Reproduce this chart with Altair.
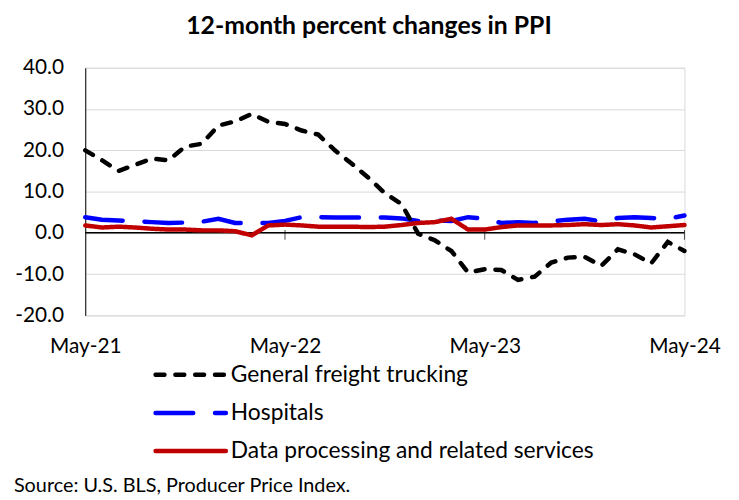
import altair as alt
import pandas as pd

FONT = "Lato"

month_index = list(range(37))
freight = [20.0, 17.6, 15.0, 16.5, 18.0, 17.6, 20.9, 21.6, 26.0, 27.0, 28.8, 26.9,
           26.4, 24.8, 23.8, 20.0, 16.8, 13.4, 9.6, 7.0, -0.2, -1.8, -4.4, -9.6,
           -8.8, -9.0, -11.4, -10.6, -7.2, -6.0, -5.8, -8.0, -4.0, -5.2, -7.4, -2.2, -4.4]
hospitals = [3.8, 3.2, 3.0, 2.8, 2.6, 2.4, 2.5, 2.7, 3.4, 2.4, 2.4, 2.4,
             2.9, 3.8, 3.8, 3.7, 3.7, 3.7, 3.7, 3.5, 2.9, 3.0, 2.9, 3.8,
             3.4, 2.4, 2.6, 2.4, 2.8, 3.2, 3.4, 2.8, 3.6, 3.8, 3.6, 3.4, 4.2]
dataproc = [1.8, 1.3, 1.5, 1.3, 1.0, 0.8, 0.8, 0.6, 0.6, 0.4, -0.6, 1.8,
            2.0, 1.8, 1.5, 1.5, 1.5, 1.4, 1.5, 1.9, 2.4, 2.6, 3.4, 0.8,
            0.8, 1.4, 1.8, 1.8, 1.8, 1.9, 2.1, 1.9, 2.1, 1.8, 1.3, 1.6, 1.9]

series_names = ["General freight trucking", "Hospitals", "Data processing and related services"]
series_colors = ["#000000", "#0000FF", "#C00000"]
series_dashes = [[9, 11], [38, 22], [1, 0]]

x_tick_positions = [0, 12, 24, 36]
x_tick_labels = ["May-21", "May-22", "May-23", "May-24"]
y_ticks = [-20, -10, 0, 10, 20, 30, 40]

title_text = "12-month percent changes in PPI"
source_text = "Source: U.S. BLS, Producer Price Index."

rows = []
for name, vals in [(series_names[1], hospitals), (series_names[2], dataproc), (series_names[0], freight)]:
    for i, v in zip(month_index, vals):
        rows.append({"month": i, "value": v, "series": name})
df = pd.DataFrame(rows)

color_scale = alt.Scale(domain=series_names, range=series_colors)
dash_scale = alt.Scale(domain=series_names, range=series_dashes)

label_map = ",".join(f"'{p}':'{l}'" for p, l in zip(x_tick_positions, x_tick_labels))
x_label_expr = "{" + label_map + "}[datum.value + '']"

x_enc = alt.X("month:Q",
              scale=alt.Scale(domain=[0, 36], nice=False, zero=False),
              axis=alt.Axis(values=x_tick_positions, labelExpr=x_label_expr, title=None,
                            grid=False, domain=False, ticks=False, labelFontSize=21,
                            labelFont=FONT, labelColor="black", labelPadding=20,
                            labelOverlap=False, labelFlush=False))
y_enc = alt.Y("value:Q",
              scale=alt.Scale(domain=[-20, 40], nice=False, zero=False),
              axis=alt.Axis(values=y_ticks, title=None,
                            labelExpr="replace(format(datum.value, '.1f'), '\u2212', '-')",
                            gridColor="#d9d9d9", gridWidth=1, domainColor="black",
                            domainWidth=1, ticks=False, labelFontSize=21, labelFont=FONT,
                            labelColor="black", labelPadding=22, minExtent=78, maxExtent=78))

lines = alt.Chart(df).mark_line(strokeWidth=4.5, strokeCap="round").encode(
    x=x_enc,
    y=y_enc,
    color=alt.Color("series:N", scale=color_scale, legend=None),
    strokeDash=alt.StrokeDash("series:N", scale=dash_scale, legend=None),
)

zero_rule = alt.Chart(pd.DataFrame({"v": [0]})).mark_rule(color="black", strokeWidth=1.5).encode(
    y=alt.Y("v:Q"))

tick_df = pd.DataFrame({"month": x_tick_positions[1:]})
ticks = alt.Chart(tick_df).mark_tick(orient="vertical", color="black", size=10, thickness=1, yOffset=2).encode(
    x=alt.X("month:Q"), y=alt.datum(0))

main = alt.layer(zero_rule, ticks, lines)

# manual legend below the plot
legend_df = pd.DataFrame({"series": series_names, "row": list(range(len(series_names)))})
legend_y = alt.Y("row:Q", scale=alt.Scale(domain=[0, 2], range=[310, 387]), axis=None)
legend_rules = alt.Chart(legend_df).mark_rule(strokeWidth=4.5, strokeCap="round").encode(
    x=alt.value(71), x2=alt.value(142), y=legend_y,
    color=alt.Color("series:N", scale=color_scale, legend=None),
    strokeDash=alt.StrokeDash("series:N", scale=dash_scale, legend=None),
)
legend_text = alt.Chart(legend_df).mark_text(
    align="left", baseline="middle", fontSize=23, font=FONT, color="black").encode(
    x=alt.value(147), y=legend_y, text="series:N")
legend = alt.layer(legend_rules, legend_text)

source = alt.Chart(pd.DataFrame({"t": [source_text]})).mark_text(
    align="left", baseline="middle", fontSize=20, font=FONT, color="black").encode(
    text="t:N", x=alt.value(-72), y=alt.value(422))

chart = alt.layer(main, legend, source).resolve_scale(y="independent").properties(
    width=605, height=250,
    padding={"left": 0, "top": 4, "right": 10, "bottom": 0},
    title=alt.TitleParams(title_text, fontSize=25, fontWeight="bold", font=FONT,
                          anchor="middle", dx=-16, offset=18, color="black"),
).configure_view(stroke="#d9d9d9", strokeWidth=1)

chart.save("out.html", embed_options={"renderer": "svg", "actions": False})
